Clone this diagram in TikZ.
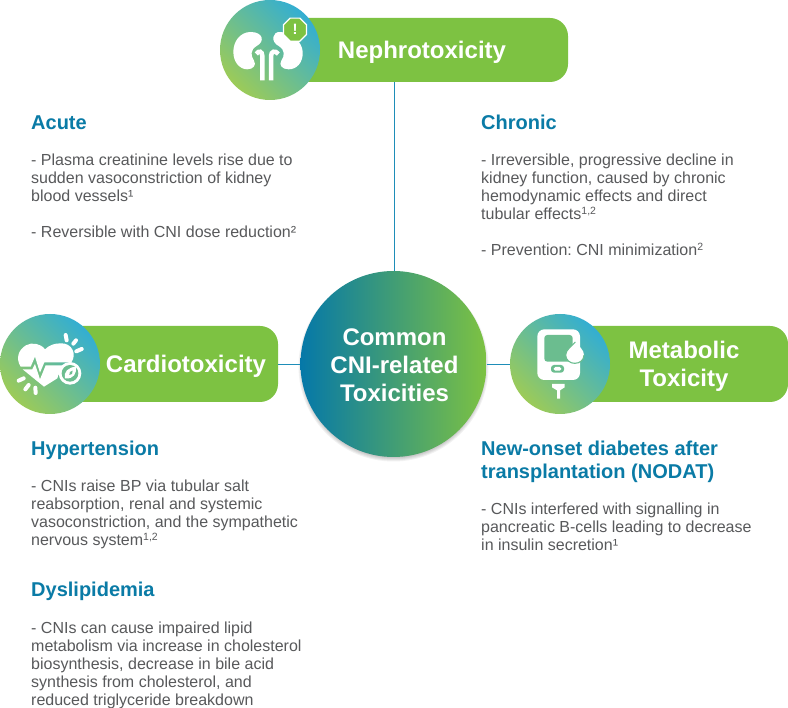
\documentclass[tikz,border=0pt]{standalone}
\usepackage{fontspec}
\setmainfont{Liberation Sans}
\usetikzlibrary{shapes.geometric}
\frenchspacing
\definecolor{pillgreen}{HTML}{7DC242}
\definecolor{headblue}{HTML}{0A7BA6}
\definecolor{bodygrey}{HTML}{58595B}
\definecolor{linkblue}{HTML}{1E8DB8}
\definecolor{icontop}{HTML}{33AED2}
\definecolor{iconmid}{HTML}{6BBD8F}
\definecolor{iconlow}{HTML}{9CCB58}
\definecolor{hubblue}{HTML}{0578A8}
\definecolor{hubmid}{HTML}{419E75}
\definecolor{hubgreen}{HTML}{7DC242}
\newcommand{\supnum}[1]{\raisebox{5.5pt}{\fontsize{10.5}{10.5}\selectfont #1}}
\tikzset{
  x=1pt,y=-1pt,
  pill/.style={fill=pillgreen,draw=none,rounded corners=18pt},
  iconcircle/.style={circle,minimum size=100pt,inner sep=0pt,draw=none,
    bottom color=iconlow,middle color=iconmid,top color=icontop,shading angle=-45},
  hub/.style={circle,minimum size=186pt,inner sep=0pt,draw=none,
    left color=hubblue,middle color=hubmid,right color=hubgreen},
  link/.style={draw=linkblue,line width=1pt},
  pilltitle/.style={text=white,font=\fontsize{24}{28}\selectfont\bfseries,align=center,inner sep=0pt},
  heading/.style={text=headblue,font=\fontsize{20}{23}\selectfont\bfseries,align=left,anchor=base west,inner sep=0pt},
  bodytext/.style={text=bodygrey,font=\fontsize{16}{18}\selectfont,align=left,anchor=base west,inner sep=0pt},
  ray/.style={draw=white,line width=4pt,line cap=round},
  hook/.style={draw=white,line width=4.5pt}
}
\begin{document}
\begin{tikzpicture}
\useasboundingbox[fill=white] (0,0) rectangle (788,708);
% pills
\path[pill] (260,18) rectangle (568,82);
\path[pill] (60,326) rectangle (278,402);
\path[pill] (570,326) rectangle (788,402);
\coordinate (nephroedge) at (394.4,82);
\coordinate (cardioedge) at (278,364.5);
\coordinate (metaedge) at (510,364.5);
% soft shadow under the hub
\foreach \rad in {90,91,92,93,94,95}{
  \fill[black,opacity=0.05] (393.5,366.5) circle (\rad);
}
% hub
\node[hub] (center) at (393.5,364) {};
\draw[link] (nephroedge |- center.north) -- (nephroedge);
\draw[link] (center.west |- cardioedge) -- (cardioedge);
\draw[link] (center.east |- metaedge) -- (metaedge);
\node[pilltitle] (hublabel) at (394.5,365) {Common\\CNI-related\\Toxicities};
% icon circles
\node[iconcircle] (nephroicon) at (270,50) {};
\node[iconcircle] (cardioicon) at (50,364) {};
\node[iconcircle] (metaicon) at (560,364) {};
% titles
\node[pilltitle] (nephrotitle) at (422,52) {Nephrotoxicity};
\node[pilltitle] (cardiotitle) at (186,366) {Cardiotoxicity};
\node[pilltitle] (metatitle) at (684,366) {Metabolic\\Toxicity};
% kidney icon
\begin{scope}[shift={(210,0)},scale=1/3]
  \fill[white] (122,96) .. controls (90,96) and (70,125) .. (70,155)
     .. controls (70,188) and (90,208) .. (112,208)
     .. controls (130,208) and (140,195) .. (132,182)
     .. controls (122,167) and (120,150) .. (140,138)
     .. controls (165,125) and (160,96) .. (122,96) -- cycle;
  \fill[white] (212,96) .. controls (185,94) and (182,126) .. (206,138)
     .. controls (226,150) and (224,167) .. (214,182)
     .. controls (206,195) and (216,208) .. (236,208)
     .. controls (260,208) and (280,188) .. (278,155)
     .. controls (276,128) and (250,98) .. (212,96) -- cycle;
  \draw[hook] (157,241) -- (157,168) .. controls (157,154) and (146,150) .. (139,162);
  \draw[hook] (183,241) -- (183,168) .. controls (183,154) and (196,150) .. (205,162);
  \node[regular polygon,regular polygon sides=8,minimum size=25pt,inner sep=0pt,fill=pillgreen,draw=white,line width=1.2pt] (alertbadge) at (255,89) {};
  \node[text=white,font=\fontsize{15}{15}\selectfont\bfseries,inner sep=0pt] (alertmark) at (255,89) {!};
\end{scope}
% heart icon
\begin{scope}[shift={(0,310)},scale=1/3]
  \fill[white] (135,118) .. controls (122,100) and (95,96) .. (78,106)
     .. controls (56,118) and (46,145) .. (62,170)
     -- (92,170) -- (105,140) -- (120,188) -- (133,157) -- (214,157)
     .. controls (232,132) and (215,98) .. (182,100)
     .. controls (162,100) and (147,106) .. (135,118) -- cycle;
  \fill[white] (68,178) -- (97,178) -- (105,162) -- (120,208) -- (137,166) -- (205,166)
     -- (175,195) -- (172,205) -- (132,230) -- cycle;
  \fill[white] (210,190) circle (34);
  \fill[iconmid] (210,190) circle (25);
  \fill[white] (195,205) .. controls (190,185) and (205,172) .. (228,170)
     .. controls (230,190) and (222,208) .. (195,205) -- cycle;
  \fill[iconmid] (208,195) .. controls (205,188) and (212,182) .. (218,182)
     .. controls (219,190) and (215,196) .. (208,195) -- cycle;
  \draw[ray] (197,75) -- (200,91);
  \draw[ray] (228,91) -- (220,101);
  \draw[ray] (245,117) -- (229,124);
  \draw[ray] (56,212) -- (71,205);
  \draw[ray] (76,238) -- (86,225);
  \draw[ray] (107,249) -- (106,233);
\end{scope}
% glucose meter icon
\begin{scope}[shift={(500,310)},scale=1/3]
  \fill[white,rounded corners=7pt] (112,58) -- (240,58) -- (240,210) -- (112,210) -- cycle;
  \fill[iconmid,rounded corners=3pt] (133,75) -- (218,75) -- (218,155) -- (133,155) -- cycle;
  \fill[white] (226,96) .. controls (215,108) and (197,120) .. (197,135)
     .. controls (197,150) and (210,160) .. (224,160)
     .. controls (240,160) and (252,150) .. (252,135)
     .. controls (252,120) and (236,108) .. (226,96) -- cycle;
  \draw[draw=iconmid,line width=1.1pt] (226,96) .. controls (215,108) and (197,120) .. (197,135)
     .. controls (197,150) and (210,160) .. (224,160)
     .. controls (240,160) and (252,150) .. (252,135);
  \fill[iconmid,rounded corners=3pt] (153,165) rectangle (192,188);
  \fill[white,rounded corners=1.7pt] (161,171) rectangle (184,182);
  \fill[white] (156,222) -- (194,222) -- (194,232) -- (180,241) -- (180,266) -- (171,266) -- (171,241) -- (156,232) -- cycle;
\end{scope}
% text
\node[heading] (acutehead) at (31,130) {Acute};
\node[bodytext] (acutebody) at (31,238) {- Plasma creatinine levels rise due to\\sudden vasoconstriction of kidney\\blood vessels¹\\[18pt]- Reversible with CNI dose reduction²};
\node[heading] (chronichead) at (481,130) {Chronic};
\node[bodytext] (chronicbody) at (481,256) {- Irreversible, progressive decline in\\kidney function, caused by chronic\\hemodynamic effects and direct\\tubular effects\supnum{1,2}\\[18pt]- Prevention: CNI minimization\supnum{2}};
\node[heading] (hyperhead) at (31,456) {Hypertension};
\node[bodytext] (hyperbody) at (31,546) {- CNIs raise BP via tubular salt\\reabsorption, renal and systemic\\vasoconstriction, and the sympathetic\\nervous system\supnum{1,2}};
\node[heading] (dyshead) at (31,597) {Dyslipidemia};
\node[bodytext] (dysbody) at (31,705) {- CNIs can cause impaired lipid\\metabolism via increase in cholesterol\\biosynthesis, decrease in bile acid\\synthesis from cholesterol, and\\reduced triglyceride breakdown};
\node[heading] (nodathead) at (481,479) {New-onset diabetes after\\transplantation (NODAT)};
\node[bodytext] (nodatbody) at (481,551) {- CNIs interfered with signalling in\\pancreatic B-cells leading to decrease\\in insulin secretion¹};
\end{tikzpicture}
\end{document}
